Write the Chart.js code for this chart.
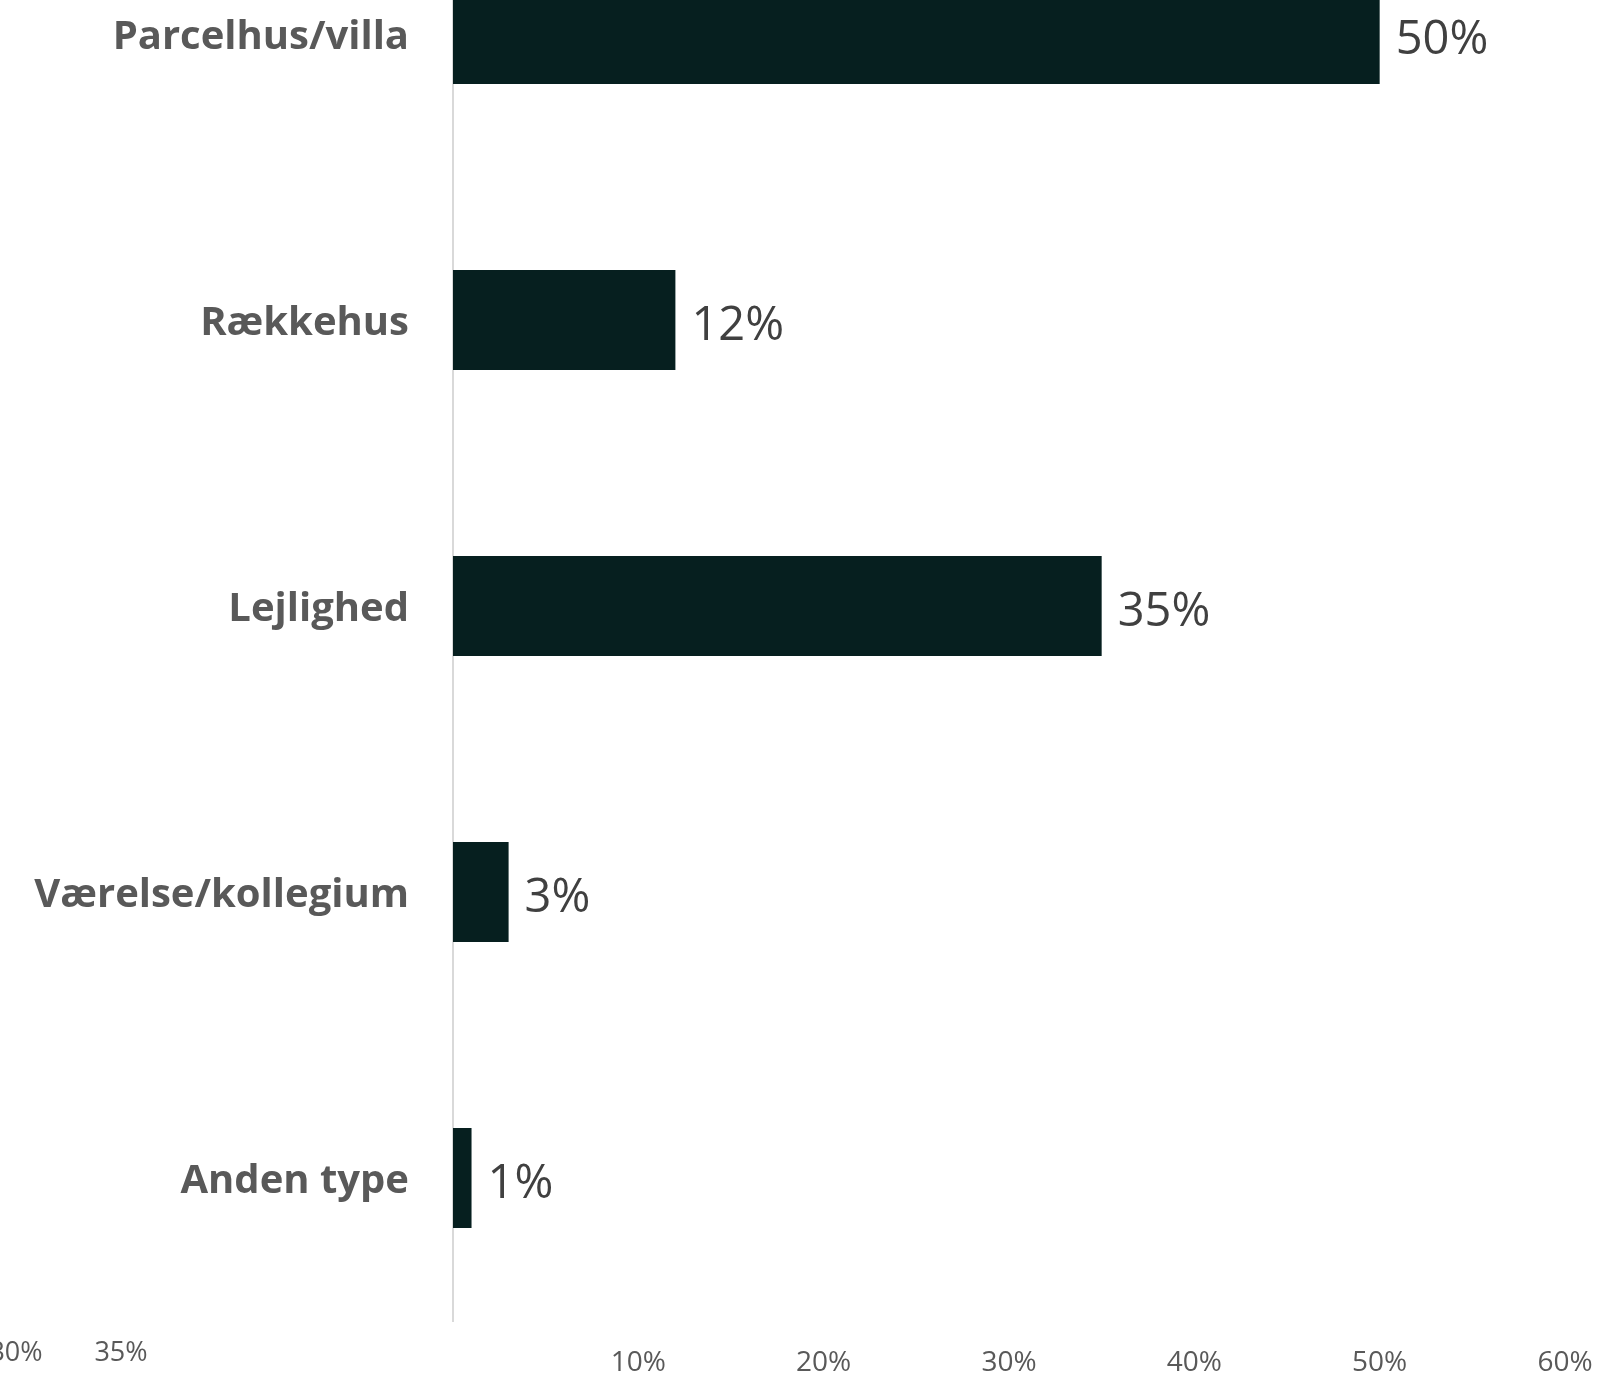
<!DOCTYPE html>
<html>
<head>
<meta charset="utf-8">
<script src="https://cdn.jsdelivr.net/npm/chart.js@4/dist/chart.umd.min.js"></script>
<style>
  html, body { margin: 0; padding: 0; background: #ffffff; overflow: hidden; width: 1597px; height: 1378px; }
  #wrap { position: absolute; left: 0; top: -200px; width: 1597px; height: 1578px; }
</style>
</head>
<body>
<div id="wrap"><canvas id="c"></canvas></div>
<script>
const categories = ['Parcelhus/villa', 'Rækkehus', 'Lejlighed', 'Værelse/kollegium', 'Anden type'];
const values = [50, 12, 35, 3, 1];
const tickValues = [10, 20, 30, 40, 50, 60];
const ghostLabels = ['30%', '35%'];

const valueLabelPlugin = {
  id: 'valueLabels',
  afterDatasetsDraw(chart) {
    const ctx = chart.ctx;
    const meta = chart.getDatasetMeta(0);
    ctx.save();
    ctx.font = '47px "Open Sans"';
    ctx.fillStyle = '#404040';
    ctx.textAlign = 'left';
    ctx.textBaseline = 'middle';
    meta.data.forEach((bar, i) => {
      ctx.fillText(values[i] + '%', bar.x + 16, bar.y + 7);
    });
    ctx.restore();
  }
};

const ghostPlugin = {
  id: 'ghost',
  afterDraw(chart) {
    const ctx = chart.ctx;
    ctx.save();
    ctx.font = '27px "Open Sans"';
    ctx.fillStyle = '#595959';
    ctx.textAlign = 'center';
    ctx.textBaseline = 'middle';
    const xs = [16, 121];
    ghostLabels.forEach((t, i) => ctx.fillText(t, xs[i], 1553));
    ctx.restore();
  }
};

new Chart(document.getElementById('c'), {
  type: 'bar',
  data: {
    labels: categories,
    datasets: [{
      data: values,
      backgroundColor: '#061f1f',
      barPercentage: 0.35,
      categoryPercentage: 1.0
    }]
  },
  options: {
    indexAxis: 'y',
    responsive: true,
    maintainAspectRatio: false,
    animation: false,
    layout: { padding: { top: 91, right: 32, bottom: 0, left: 0 } },
    plugins: { legend: { display: false }, tooltip: { enabled: false } },
    scales: {
      x: {
        min: 0, max: 60,
        afterFit(s) { s.height = 57; s.paddingLeft = 0; s.paddingRight = 0; },
        afterBuildTicks(s) { s.ticks = [0].concat(tickValues).map(v => ({ value: v })); },
        grid: { display: false, drawTicks: false },
        border: { display: false },
        ticks: {
          padding: 25,
          color: '#595959',
          font: { family: 'Open Sans', size: 28 },
          maxRotation: 0,
          autoSkip: false,
          callback: (v) => v === 0 ? '' : v + '%'
        }
      },
      y: {
        afterFit(s) { s.width = 453; s.paddingTop = 0; s.paddingBottom = 0; },
        grid: { display: false, drawTicks: false },
        border: { display: true, color: '#d9d9d9', width: 2 },
        ticks: {
          padding: 44,
          labelOffset: 4,
          color: '#595959',
          font: { family: 'Open Sans', size: 40, weight: 'bold' },
          autoSkip: false
        }
      }
    }
  },
  plugins: [valueLabelPlugin, ghostPlugin]
});
</script>
</body>
</html>
